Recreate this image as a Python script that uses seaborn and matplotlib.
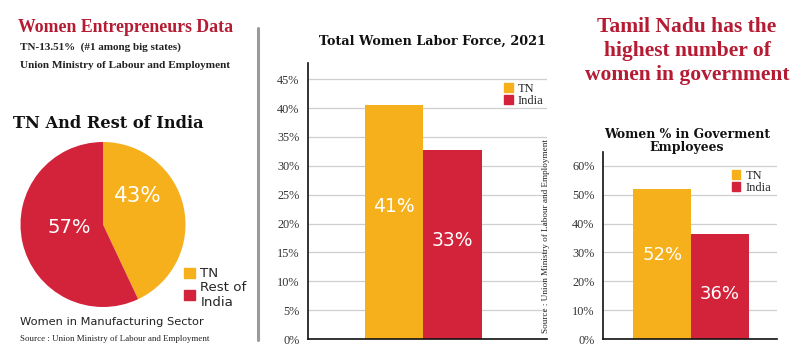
import matplotlib
matplotlib.use("Agg")
import matplotlib.pyplot as plt
import seaborn as sns
from matplotlib.patches import Patch
from matplotlib.lines import Line2D

sns.set_theme(style="white")
plt.rcParams['font.family'] = ['DejaVu Sans']

# ---- data ----
pie_labels = ["TN", "Rest of\nIndia"]
pie_values = [43, 57]
pie_texts = ["43%", "57%"]

labor_cats = ["TN", "India"]
labor_values = [40.5, 32.8]
labor_texts = ["41%", "33%"]
labor_ticks = [0, 5, 10, 15, 20, 25, 30, 35, 40, 45]

gov_cats = ["TN", "India"]
gov_values = [52.0, 36.5]
gov_texts = ["52%", "36%"]
gov_ticks = [0, 10, 20, 30, 40, 50, 60]

ORANGE = "#F6B01B"
RED = "#D3233B"
TITLE_RED = "#B51C34"
SERIF = "Liberation Serif"
SLAB = "DejaVu Serif"

W, H = 801, 353
fig = plt.figure(figsize=(W / 100, H / 100), dpi=100)
fig.patch.set_facecolor("white")


def px_axes(x0, y0, x1, y1):
    return fig.add_axes([x0 / W, 1 - y1 / H, (x1 - x0) / W, (y1 - y0) / H])


def ftext(x, y, s, **kw):
    fig.text(x / W, 1 - y / H, s, **kw)


# ---- left panel text ----
ftext(18, 27, "Women Entrepreneurs Data", family=SERIF, fontweight="bold",
      fontsize=12.8, color=TITLE_RED, va="center", ha="left")
ftext(20, 47, "TN-13.51%  (#1 among big states)", family=SERIF, fontweight="bold",
      fontsize=8.0, color="#222222", va="center", ha="left")
ftext(20, 65, "Union Ministry of Labour and Employment", family=SERIF, fontweight="bold",
      fontsize=8.1, color="#222222", va="center", ha="left")
ftext(13, 124, "TN And Rest of India", family=SLAB, fontweight="bold",
      fontsize=11.7, color="#111111", va="center", ha="left")
ftext(20, 322, "Women in Manufacturing Sector", family="DejaVu Sans",
      fontsize=8.2, color="#222222", va="center", ha="left")
ftext(20, 339, "Source : Union Ministry of Labour and Employment", family=SERIF,
      fontsize=6.4, color="#222222", va="center", ha="left")

# separator line
fig.add_artist(Line2D([258 / W, 258 / W], [1 - 28 / H, 1 - 340 / H],
                      color="#9a9a9a", lw=2.2, transform=fig.transFigure))

# ---- pie ----
axp = px_axes(20.5, 142, 185.5, 307)
wedges, _ = axp.pie(pie_values, colors=[ORANGE, RED], startangle=90,
                    counterclock=False, radius=1.0,
                    wedgeprops={"linewidth": 0})
axp.set_xlim(-1, 1)
axp.set_ylim(-1, 1)
axp.set_aspect("equal")
axp.axis("off")
axp.text(0.42, 0.34, pie_texts[0], color="white", fontsize=15.5, ha="center", va="center")
axp.text(-0.41, -0.04, pie_texts[1], color="white", fontsize=14, ha="center", va="center")

legp = fig.legend(handles=[Patch(color=ORANGE, label=pie_labels[0]),
                           Patch(color=RED, label=pie_labels[1])],
                  loc="upper left", bbox_to_anchor=(179 / W, 1 - 262 / H),
                  frameon=False, fontsize=9.6, handlelength=0.8, handleheight=0.8,
                  handletextpad=0.4, labelspacing=0.05, borderaxespad=0)


def style_bar_axes(ax, ticks):
    sns.despine(ax=ax)
    ax.spines["left"].set_color("#111111")
    ax.spines["bottom"].set_color("#111111")
    ax.spines["left"].set_linewidth(1.2)
    ax.spines["bottom"].set_linewidth(1.2)
    ax.set_yticks(ticks)
    ax.set_yticklabels([f"{t}%" for t in ticks], family=SERIF, fontsize=8.8, color="#333333")
    ax.tick_params(axis="y", length=0, pad=6)
    ax.set_xticks([])
    ax.set_xlabel("")
    ax.set_ylabel("")
    ax.grid(axis="y", color="#cfcfcf", lw=0.9)
    ax.set_axisbelow(True)


# ---- middle chart ----
axm = px_axes(308, 63, 547, 339)
sns.barplot(x=labor_cats, y=labor_values, hue=labor_cats, palette=[ORANGE, RED],
            width=1.0, saturation=1, legend=False, linewidth=0, ax=axm)
axm.set_xlim(-1.47, 2.62)
axm.set_ylim(0, 47.8)
style_bar_axes(axm, labor_ticks)
axm.text(0, 23, labor_texts[0], color="white", fontsize=13.5, ha="center", va="center")
axm.text(1, 17, labor_texts[1], color="white", fontsize=13.5, ha="center", va="center")
axm.legend(handles=[Patch(color=ORANGE, label=labor_cats[0]),
                    Patch(color=RED, label=labor_cats[1])],
           loc="upper left", bbox_to_anchor=(0.8, 0.945), frameon=False,
           prop={"family": SERIF, "size": 9}, handlelength=0.7, handleheight=0.7,
           handletextpad=0.4, labelspacing=0.0, borderaxespad=0)
axm.text(1.012, 0.02, "Source : Union Ministry of Labour and Employment", transform=axm.transAxes,
         rotation=90, family=SERIF, fontsize=6.6, ha="right", va="bottom", color="#222222")
ftext(432, 41, "Total Women Labor Force, 2021", family=SLAB, fontweight="bold",
      fontsize=9.2, color="#111111", ha="center", va="center")

# ---- right panel ----
ftext(687, 51, "Tamil Nadu has the\nhighest number of\nwomen in government", family=SERIF,
      fontweight="bold", fontsize=15.5, color=TITLE_RED, ha="center", va="center",
      linespacing=1.27)
ftext(687, 141, "Women % in Goverment\nEmployees", family=SLAB, fontweight="bold",
      fontsize=8.9, color="#111111", ha="center", va="center", linespacing=0.95)

axr = px_axes(603, 152, 777, 339)
sns.barplot(x=gov_cats, y=gov_values, hue=gov_cats, palette=[ORANGE, RED],
            width=1.0, saturation=1, legend=False, linewidth=0, ax=axr)
axr.set_xlim(-1.02, 1.98)
axr.set_ylim(0, 64.8)
style_bar_axes(axr, gov_ticks)
axr.text(0, 29, gov_texts[0], color="white", fontsize=13, ha="center", va="center")
axr.text(1, 15.5, gov_texts[1], color="white", fontsize=13, ha="center", va="center")
axr.legend(handles=[Patch(color=ORANGE, label=gov_cats[0]),
                    Patch(color=RED, label=gov_cats[1])],
           loc="upper left", bbox_to_anchor=(0.71, 0.93), frameon=False,
           prop={"family": SERIF, "size": 9}, handlelength=0.7, handleheight=0.7,
           handletextpad=0.4, labelspacing=0.0, borderaxespad=0)

fig.savefig("out.png", dpi=100, facecolor="white")
